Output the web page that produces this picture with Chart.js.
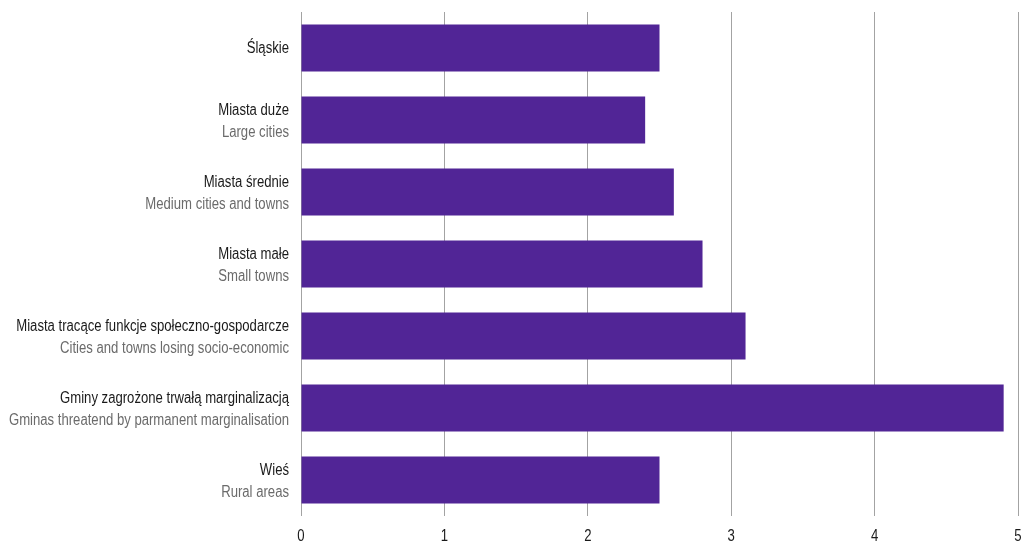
<!DOCTYPE html>
<html>
<head>
    <meta charset="UTF-8">
    <title>Wykres</title>
    <script src="https://cdn.jsdelivr.net/npm/chart.js"></script>
    <style>
        html, body { margin: 0; padding: 0; background: #fff; }
        .chart-container { width: 1021px; height: 547px; position: relative; }
    </style>
</head>
<body>
    <div class="chart-container">
        <canvas id="barChart"></canvas>
    </div>
    <script>
        // dane
        var categoriesPl = ['Śląskie', 'Miasta duże', 'Miasta średnie', 'Miasta małe',
            'Miasta tracące funkcje społeczno-gospodarcze', 'Gminy zagrożone trwałą marginalizacją', 'Wieś'];
        var categoriesEn = ['', 'Large cities', 'Medium cities and towns', 'Small towns',
            'Cities and towns losing socio-economic', 'Gminas threatend by parmanent marginalisation', 'Rural areas'];
        var values = [2.5, 2.4, 2.6, 2.8, 3.1, 4.9, 2.5];
        var xTicks = [0, 1, 2, 3, 4, 5];

        var fontName = '"Liberation Sans", Arial, sans-serif';
        var squeeze = 0.82; // zwężenie tekstu (font condensed)

        function narrowText(ctx, text, x, y, color) {
            ctx.save();
            ctx.translate(x, y);
            ctx.scale(squeeze, 1);
            ctx.fillStyle = color;
            ctx.fillText(text, 0, 0);
            ctx.restore();
        }

        // rysuje dwuliniowe etykiety (PL czarne, EN szare)
        const labelPlugin = {
            id: 'twoLineLabels',
            afterDraw: function (chart) {
                const ctx = chart.ctx;
                const yScale = chart.scales.y;
                const xScale = chart.scales.x;
                const right = chart.chartArea.left - 12;
                ctx.save();
                ctx.font = '16px ' + fontName;
                ctx.textAlign = 'right';
                ctx.textBaseline = 'middle';
                for (var i = 0; i < categoriesPl.length; i++) {
                    var y = yScale.getPixelForTick(i);
                    if (categoriesEn[i]) {
                        narrowText(ctx, categoriesPl[i], right, y - 9.5, '#1a1a1a');
                        narrowText(ctx, categoriesEn[i], right, y + 12.5, '#6b6b6b');
                    } else {
                        narrowText(ctx, categoriesPl[i], right, y + 0.5, '#1a1a1a');
                    }
                }
                // etykiety osi X
                ctx.textAlign = 'center';
                for (var j = 0; j < xTicks.length; j++) {
                    narrowText(ctx, String(xTicks[j]), xScale.getPixelForValue(xTicks[j]), chart.chartArea.bottom + 21, '#1a1a1a');
                }
                ctx.restore();
            }
        };

        const ctx = document.getElementById('barChart').getContext('2d');
        const barChart = new Chart(ctx, {
            type: 'bar',
            data: {
                labels: categoriesPl,
                datasets: [{
                    data: values,
                    backgroundColor: '#512596',
                    borderWidth: 0,
                    barPercentage: 0.65,
                    categoryPercentage: 1.0
                }]
            },
            options: {
                indexAxis: 'y',
                responsive: true,
                maintainAspectRatio: false,
                animation: false,
                layout: { padding: { top: 12, right: 3, bottom: 0, left: 0 } },
                plugins: {
                    legend: { display: false },
                    tooltip: { enabled: false }
                },
                scales: {
                    x: {
                        min: 0,
                        max: 5,
                        afterBuildTicks: function (scale) {
                            scale.ticks = xTicks.map(function (v) { return { value: v }; });
                        },
                        afterFit: function (scale) {
                            scale.height = 31;
                            scale.paddingLeft = 0;
                            scale.paddingRight = 0;
                        },
                        grid: { color: '#a3a3a3', lineWidth: 1, tickLength: 0, drawTicks: false },
                        border: { display: false },
                        ticks: { display: false }
                    },
                    y: {
                        grid: { display: false },
                        border: { display: false },
                        ticks: { display: false },
                        afterFit: function (scale) { scale.width = 301; }
                    }
                }
            },
            plugins: [labelPlugin]
        });
    </script>
</body>
</html>
